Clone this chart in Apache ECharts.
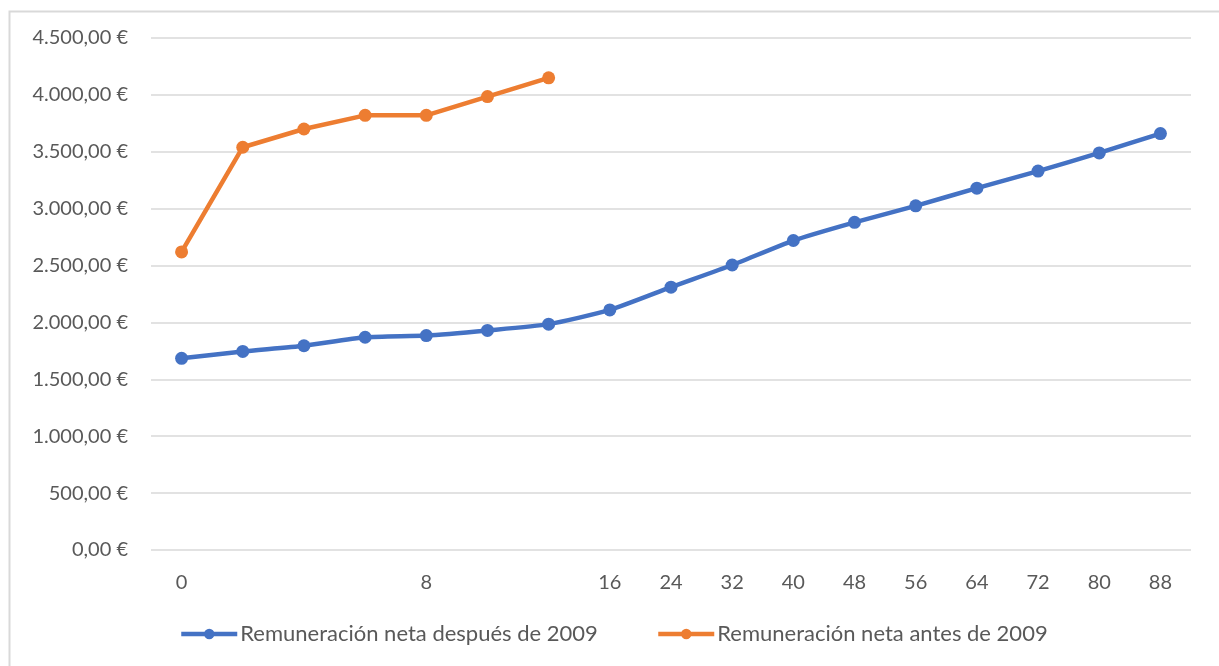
<!DOCTYPE html>
<html>
<head>
<meta charset="utf-8">
<script src="https://cdn.jsdelivr.net/npm/echarts@6/dist/echarts.min.js"></script>
<style>
  html, body { margin: 0; padding: 0; background: #fff; }
  #chart { width: 1219px; height: 666px; }
</style>
</head>
<body>
<div id="chart"></div>
<script>
// Years of service shown on the horizontal axis (unlabelled steps left blank)
const categories = ['0', '', '', '', '8', '', '', '16', '24', '32', '40', '48', '56', '64', '72', '80', '88'];

// Net pay, in euros
const despues2009 = [1685, 1745, 1795, 1870, 1885, 1930, 1985, 2110, 2310, 2505, 2720, 2880, 3025, 3180, 3330, 3490, 3660];
const antes2009 = [2620, 3540, 3700, 3820, 3820, 3985, 4150, null, null, null, null, null, null, null, null, null, null];

const seriesNames = ['Remuneración neta después de 2009', 'Remuneración neta antes de 2009'];

const yTicks = { min: 0, max: 4500, interval: 500 };

function formatEuro(v) {
  const parts = v.toFixed(2).split('.');
  const intPart = parts[0].replace(/\B(?=(\d{3})+(?!\d))/g, '.');
  return intPart + ',' + parts[1] + ' €';
}

const chart = echarts.init(document.getElementById('chart'), null, { renderer: 'canvas' });

const textColor = '#595959';
const fontFamily = 'Lato, "Open Sans", sans-serif';
const blue = '#4472C4';
const orange = '#ED7D31';

function legendAt(name, left) {
  return {
    data: [name],
    top: 623,
    left: left,
    padding: 0,
    itemWidth: 56,
    itemHeight: 13,
    lineStyle: { width: 4.5 },
    textStyle: { color: textColor, fontSize: 22, fontFamily: fontFamily, padding: [0, 0, 0, -2] }
  };
}

chart.setOption({
  backgroundColor: '#ffffff',
  animation: false,
  textStyle: { fontFamily: fontFamily },
  graphic: [{
    type: 'rect',
    left: 7, top: 9,
    shape: { width: 1300, height: 700 },
    style: { fill: 'none', stroke: '#d9d9d9', lineWidth: 2 },
    silent: true,
    z: -1
  }],
  grid: { left: 151, right: 28, top: 38, bottom: 116, containLabel: false },
  legend: [legendAt(seriesNames[0], 179), legendAt(seriesNames[1], 656)],
  xAxis: {
    type: 'category',
    data: categories,
    boundaryGap: true,
    axisLine: { show: false },
    axisTick: { show: false },
    axisLabel: { color: textColor, fontSize: 20, margin: 23, interval: 0, fontFamily: fontFamily }
  },
  yAxis: {
    type: 'value',
    min: yTicks.min,
    max: yTicks.max,
    interval: yTicks.interval,
    axisLine: { show: false },
    axisTick: { show: false },
    axisLabel: { color: textColor, fontSize: 20, margin: 23, formatter: formatEuro, fontFamily: fontFamily },
    splitLine: { lineStyle: { color: '#d9d9d9', width: 1.5 } }
  },
  series: [
    {
      name: seriesNames[0],
      type: 'line',
      data: despues2009,
      smooth: 0.2,
      symbol: 'circle',
      symbolSize: 13,
      lineStyle: { color: blue, width: 4.5 },
      itemStyle: { color: blue }
    },
    {
      name: seriesNames[1],
      type: 'line',
      data: antes2009,
      symbol: 'circle',
      symbolSize: 13,
      connectNulls: false,
      lineStyle: { color: orange, width: 4.5 },
      itemStyle: { color: orange }
    }
  ]
});
</script>
</body>
</html>
